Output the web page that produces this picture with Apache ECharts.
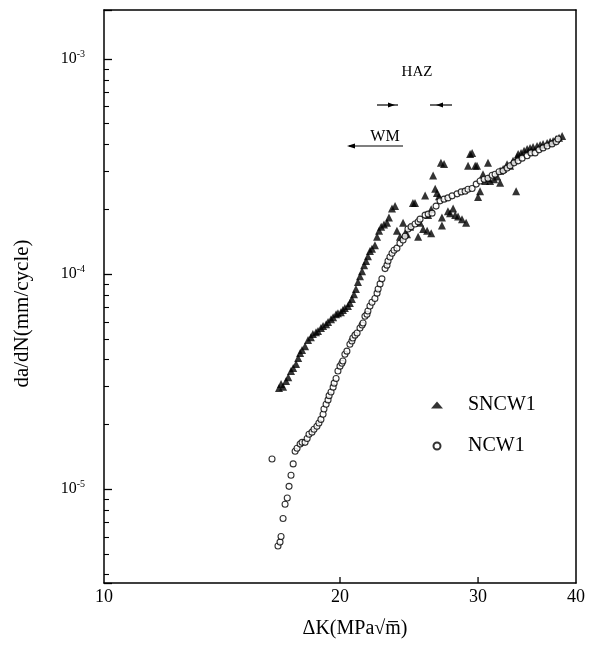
<!DOCTYPE html>
<html><head><meta charset="utf-8">
<script src="https://cdn.jsdelivr.net/npm/echarts@6/dist/echarts.min.js"></script>
<style>html,body{margin:0;padding:0;background:#fff}#c{width:589px;height:646px}</style>
</head><body><div id="c"></div>
<script>
const xTickLabels = [10, 20, 30, 40];
const xTickMarks = [20, 30];
const yTickLabels = [1e-5, 1e-4, 1e-3];

const sncw1K = [16.72,16.82,16.92,17.07,17.18,17.32,17.43,17.58,17.69,17.79,
17.89,18.05,18.21,18.36,18.47,18.64,18.75,18.91,19.03,19.2,
19.31,19.48,19.6,19.77,19.88,20.05,20.17,20.29,20.47,20.59,
20.71,20.84,20.96,21.08,21.21,21.34,21.47,21.59,21.71,21.84,
21.97,22.16,22.3,22.43,22.57,22.76,22.96,23.09,23.3,23.51,
23.64,23.85,24.07,24.21,24.35,24.57,24.78,24.93,25.16,25.3,
25.53,25.68,25.83,25.91,26.14,26.14,26.29,26.45,26.59,26.75,
26.9,26.98,26.98,27.15,27.46,27.63,27.88,28.05,28.29,28.62,
28.97,29.13,29.31,29.48,29.75,29.91,30.0,30.18,30.44,30.63,
30.89,30.89,31.08,31.45,31.73,32.01,32.01,32.29,32.67,32.96,
33.25,33.55,33.65,33.75,34.04,34.34,34.65,34.95,35.26,35.68,
36.0,36.31,36.75,37.07,37.4,37.73,38.06,38.4];
const sncw1Rate = [2.95e-5,3.08e-5,2.99e-5,3.18e-5,3.31e-5,3.54e-5,3.66e-5,3.82e-5,4.07e-5,4.29e-5,
4.43e-5,4.62e-5,4.93e-5,5.09e-5,5.26e-5,5.37e-5,5.43e-5,5.61e-5,5.73e-5,5.85e-5,
5.98e-5,6.17e-5,6.3e-5,6.5e-5,6.58e-5,6.65e-5,6.8e-5,6.95e-5,7.1e-5,7.33e-5,
7.66e-5,8.05e-5,8.52e-5,9.18e-5,9.78e-5,1.03e-4,1.10e-4,1.15e-4,1.21e-4,1.28e-4,
1.31e-4,1.36e-4,1.49e-4,1.59e-4,1.66e-4,1.70e-4,1.73e-4,1.83e-4,2.02e-4,2.07e-4,
1.59e-4,1.49e-4,1.73e-4,1.55e-4,1.53e-4,1.66e-4,2.14e-4,2.14e-4,1.49e-4,1.73e-4,
1.62e-4,2.32e-4,1.59e-4,1.88e-4,1.55e-4,2.0e-4,2.87e-4,2.49e-4,2.38e-4,2.3e-4,
3.29e-4,1.83e-4,1.68e-4,3.25e-4,1.96e-4,1.92e-4,2.02e-4,1.88e-4,1.85e-4,1.80e-4,
1.73e-4,3.19e-4,3.62e-4,3.66e-4,3.19e-4,3.19e-4,2.28e-4,2.43e-4,2.91e-4,2.71e-4,
3.29e-4,2.79e-4,2.71e-4,2.76e-4,2.84e-4,3.02e-4,2.66e-4,3.08e-4,3.24e-4,3.19e-4,
3.36e-4,2.43e-4,3.5e-4,3.62e-4,3.66e-4,3.74e-4,3.82e-4,3.86e-4,3.9e-4,3.94e-4,
3.98e-4,4.03e-4,4.07e-4,4.12e-4,4.16e-4,4.25e-4,4.30e-4,4.39e-4];

const ncw1K = [16.38,16.67,16.77,16.82,16.92,17.02,17.13,17.22,17.32,17.43,
17.53,17.63,17.79,17.89,18.05,18.16,18.26,18.42,18.53,18.69,
18.8,18.91,19.03,19.08,19.2,19.31,19.37,19.48,19.6,19.66,
19.77,19.88,20.0,20.11,20.17,20.29,20.41,20.59,20.71,20.77,
20.9,21.03,21.21,21.34,21.4,21.52,21.65,21.71,21.84,21.97,
22.16,22.3,22.37,22.5,22.62,22.83,22.96,23.03,23.16,23.3,
23.44,23.64,23.85,24.07,24.21,24.42,24.64,24.93,25.16,25.3,
25.68,25.91,26.21,26.52,26.83,27.15,27.46,27.8,28.21,28.55,
28.88,29.13,29.48,29.84,30.18,30.54,30.89,31.27,31.54,31.91,
32.29,32.67,32.96,33.35,33.75,34.15,34.65,35.05,35.47,35.88,
36.31,36.75,37.28,37.73,37.95];
const ncw1Rate = [1.38e-5,5.44e-6,5.67e-6,6.02e-6,7.3e-6,8.5e-6,9.1e-6,1.03e-5,1.16e-5,1.31e-5,
1.5e-5,1.55e-5,1.62e-5,1.65e-5,1.65e-5,1.72e-5,1.8e-5,1.84e-5,1.9e-5,1.96e-5,
2.03e-5,2.11e-5,2.23e-5,2.36e-5,2.48e-5,2.6e-5,2.72e-5,2.83e-5,2.98e-5,3.11e-5,
3.27e-5,3.54e-5,3.73e-5,3.85e-5,3.94e-5,4.24e-5,4.38e-5,4.72e-5,4.88e-5,5.04e-5,
5.2e-5,5.32e-5,5.61e-5,5.8e-5,5.92e-5,6.37e-5,6.5e-5,6.73e-5,7.1e-5,7.4e-5,
7.7e-5,8.15e-5,8.52e-5,9.0e-5,9.5e-5,1.06e-4,1.10e-4,1.15e-4,1.20e-4,1.25e-4,
1.29e-4,1.32e-4,1.39e-4,1.44e-4,1.50e-4,1.62e-4,1.66e-4,1.71e-4,1.75e-4,1.80e-4,
1.88e-4,1.9e-4,1.92e-4,2.07e-4,2.19e-4,2.23e-4,2.26e-4,2.31e-4,2.36e-4,2.41e-4,
2.43e-4,2.48e-4,2.5e-4,2.62e-4,2.71e-4,2.76e-4,2.79e-4,2.88e-4,2.91e-4,2.99e-4,
3.02e-4,3.11e-4,3.19e-4,3.29e-4,3.36e-4,3.46e-4,3.55e-4,3.66e-4,3.66e-4,3.78e-4,
3.86e-4,3.94e-4,4.03e-4,4.12e-4,4.25e-4];

const serif = 'Liberation Serif';
const X_MIN = 10, X_MAX = 40, Y_MIN = 3.66e-6, Y_MAX = 1.69e-3;
const axisLineStyle = {color: '#000', width: 1.5};

// Inward x tick marks drawn through the axes' own scales
function xTickSeries(values, len) {
  return {
    type: 'custom', coordinateSystem: 'cartesian2d', xAxisIndex: 0, yAxisIndex: 0,
    silent: true, clip: false, z: 5,
    data: values.map(v => [v, Y_MIN]),
    renderItem: (params, api) => {
      const p = api.coord([api.value(0), api.value(1)]);
      return {type: 'line', shape: {x1: p[0], y1: p[1], x2: p[0], y2: p[1] - len},
        style: {stroke: '#000', lineWidth: 1.3}};
    }
  };
}

const chart = echarts.init(document.getElementById('c'), null, {renderer: 'canvas'});
chart.setOption({
  animation: false,
  backgroundColor: '#fff',
  grid: {left: 104, right: 13, top: 10, bottom: 63},
  xAxis: [{
    type: 'log', logBase: 10, min: X_MIN, max: X_MAX,
    axisLine: {show: true, onZero: false, lineStyle: axisLineStyle},
    axisTick: {show: false},
    axisLabel: {show: true, customValues: xTickLabels, color: '#000', fontFamily: serif, fontSize: 18, margin: 5,
      formatter: v => String(Math.round(v))},
    splitLine: {show: false}, minorTick: {show: false},
    name: 'ΔK(MPa√m̅)', nameLocation: 'middle', nameGap: 36,
    nameTextStyle: {fontFamily: serif, fontSize: 20, color: '#000', padding: [0, 0, 0, 30]}
  }, {
    type: 'log', logBase: 10, min: X_MIN, max: X_MAX, position: 'top',
    axisLine: {show: true, onZero: false, lineStyle: axisLineStyle},
    axisTick: {show: false}, axisLabel: {show: false}, splitLine: {show: false}
  }],
  yAxis: [{
    type: 'log', logBase: 10, min: Y_MIN, max: Y_MAX,
    axisLine: {show: true, onZero: false, lineStyle: axisLineStyle},
    axisTick: {show: true, inside: true, length: 8, lineStyle: {color: '#000', width: 1.3}},
    minorTick: {show: true, splitNumber: 9, length: 5, lineStyle: {color: '#000', width: 1.1}},
    axisLabel: {show: true, customValues: yTickLabels, margin: 19,
      formatter: v => '{b|10}{s|' + Math.round(Math.log10(v)) + '}',
      rich: {
        b: {fontFamily: serif, fontSize: 16, color: '#000'},
        s: {fontFamily: serif, fontSize: 10, color: '#000', padding: [0, 0, 10, 0]}
      }},
    splitLine: {show: false},
    name: 'da/dN(mm/cycle)', nameLocation: 'middle', nameGap: 71,
    nameTextStyle: {fontFamily: serif, fontSize: 21, color: '#000', padding: [0, 34, 0, 0]}
  }, {
    type: 'log', logBase: 10, min: Y_MIN, max: Y_MAX, position: 'right',
    axisLine: {show: true, onZero: false, lineStyle: axisLineStyle},
    axisTick: {show: false}, axisLabel: {show: false}, splitLine: {show: false}
  }],
  legend: {
    orient: 'vertical', left: 426, top: 390, itemWidth: 12, itemHeight: 7, itemGap: 21,
    data: ['SNCW1', 'NCW1'],
    textStyle: {fontFamily: serif, fontSize: 20, color: '#000', padding: [0, 0, 0, 20]}
  },
  series: [
    xTickSeries(xTickMarks, 6),
  {
    name: 'SNCW1', type: 'scatter', xAxisIndex: 0, yAxisIndex: 0,
    symbol: 'triangle', symbolSize: 8,
    itemStyle: {color: '#000'},
    data: sncw1K.map((k, i) => [k, sncw1Rate[i]])
  }, {
    name: 'NCW1', type: 'scatter', xAxisIndex: 0, yAxisIndex: 0,
    symbol: 'circle', symbolSize: 6,
    itemStyle: {color: '#fff', borderColor: '#000', borderWidth: 1.1},
    data: ncw1K.map((k, i) => [k, ncw1Rate[i]])
  }],
  graphic: [
    {type: 'text', style: {text: 'HAZ', x: 417, y: 72, align: 'center', verticalAlign: 'middle', font: '15px "Liberation Serif"', fill: '#000'}},
    {type: 'line', shape: {x1: 377, y1: 105, x2: 398, y2: 105}, style: {stroke: '#000', lineWidth: 1.2}},
    {type: 'polygon', shape: {points: [[395, 105], [388, 102.5], [388, 107.5]]}, style: {fill: '#000'}},
    {type: 'line', shape: {x1: 430, y1: 105, x2: 452, y2: 105}, style: {stroke: '#000', lineWidth: 1.2}},
    {type: 'polygon', shape: {points: [[436, 105], [443, 102.5], [443, 107.5]]}, style: {fill: '#000'}},
    {type: 'text', style: {text: 'WM', x: 385, y: 137, align: 'center', verticalAlign: 'middle', font: '16px "Liberation Serif"', fill: '#000'}},
    {type: 'line', shape: {x1: 349, y1: 146, x2: 403, y2: 146}, style: {stroke: '#000', lineWidth: 1.2}},
    {type: 'polygon', shape: {points: [[347, 146], [355, 143.5], [355, 148.5]]}, style: {fill: '#000'}}
  ]
});
</script>
</body></html>
